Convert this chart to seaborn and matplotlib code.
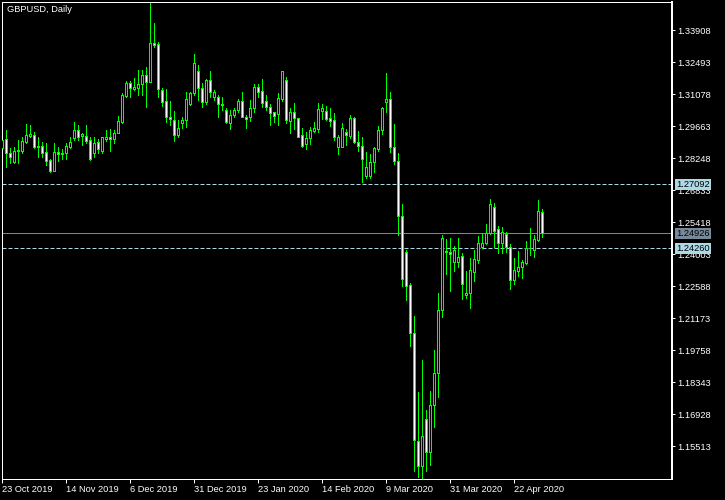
import numpy as np
import pandas as pd
import matplotlib
matplotlib.use('Agg')
import matplotlib.pyplot as plt
import seaborn as sns

# GBPUSD daily bars, 23 Oct 2019 .. 1 May 2020
opens = [1.2869, 1.2909, 1.2847, 1.2810, 1.2858, 1.2859, 1.2898, 1.2925, 1.2926, 1.2880,
         1.2879, 1.2851, 1.2817, 1.2770, 1.2853, 1.2843, 1.2847, 1.2876, 1.2916, 1.2950,
         1.2925, 1.2923, 1.2906, 1.2850, 1.2898, 1.2858, 1.2912, 1.2921, 1.2909, 1.2938,
         1.2987, 1.3102, 1.3156, 1.3133, 1.3137, 1.3152, 1.3192, 1.3161, 1.3336, 1.3330,
         1.3127, 1.3078, 1.3009, 1.2994, 1.2928, 1.2982, 1.2994, 1.3065, 1.3112, 1.3211,
         1.3134, 1.3075, 1.3171, 1.3095, 1.3095, 1.3064, 1.3038, 1.2982, 1.3015, 1.3038,
         1.3078, 1.3009, 1.3006, 1.3046, 1.3139, 1.3121, 1.3077, 1.3053, 1.3028, 1.3019,
         1.3087, 1.3170, 1.2991, 1.3028, 1.3002, 1.2928, 1.2887, 1.2913, 1.2947, 1.2954,
         1.3034, 1.3034, 1.3002, 1.2993, 1.2876, 1.2876, 1.2940, 1.2923, 1.3002, 1.2895,
         1.2881, 1.2748, 1.2748, 1.2807, 1.2866, 1.2950, 1.3075, 1.3086, 1.2876, 1.2814,
         1.2571, 1.2410, 1.2265, 1.2052, 1.1573, 1.1462, 1.1672, 1.1524, 1.1735, 1.1875,
         1.2155, 1.2415, 1.2412, 1.2368, 1.2368, 1.2393, 1.2220, 1.2228, 1.2324, 1.2373,
         1.2432, 1.2449, 1.2494, 1.2608, 1.2511, 1.2452, 1.2490, 1.2432, 1.2287, 1.2328,
         1.2343, 1.2361, 1.2428, 1.2420, 1.2464, 1.2586]
highs = [1.2920, 1.2950, 1.2869, 1.2876, 1.2906, 1.2921, 1.2977, 1.2972, 1.2942, 1.2921,
         1.2898, 1.2894, 1.2823, 1.2894, 1.2876, 1.2864, 1.2891, 1.2918, 1.2985, 1.2972,
         1.2935, 1.2972, 1.2921, 1.2918, 1.2909, 1.2921, 1.2950, 1.2953, 1.2950, 1.3012,
         1.3112, 1.3168, 1.3167, 1.3178, 1.3215, 1.3215, 1.3230, 1.3513, 1.3425, 1.3340,
         1.3134, 1.3130, 1.3080, 1.3034, 1.2994, 1.3009, 1.3119, 1.3119, 1.3286, 1.3237,
         1.3156, 1.3175, 1.3212, 1.3127, 1.3105, 1.3094, 1.3046, 1.3038, 1.3046, 1.3086,
         1.3119, 1.3016, 1.3083, 1.3153, 1.3153, 1.3175, 1.3105, 1.3065, 1.3031, 1.3112,
         1.3211, 1.3183, 1.3046, 1.3068, 1.3005, 1.2957, 1.2943, 1.2965, 1.2987, 1.3068,
         1.3063, 1.3056, 1.3046, 1.3024, 1.2928, 1.2979, 1.2953, 1.3016, 1.3009, 1.2945,
         1.2921, 1.2854, 1.2844, 1.2876, 1.2968, 1.3050, 1.3203, 1.3118, 1.2977, 1.2849,
         1.2623, 1.2420, 1.2273, 1.2128, 1.1793, 1.1934, 1.1713, 1.1798, 1.1975, 1.2231,
         1.2486, 1.2468, 1.2473, 1.2438, 1.2473, 1.2408, 1.2328, 1.2383, 1.2420, 1.2482,
         1.2494, 1.2535, 1.2644, 1.2629, 1.2526, 1.2521, 1.2501, 1.2446, 1.2383, 1.2417,
         1.2376, 1.2457, 1.2518, 1.2486, 1.2641, 1.2601]
lows = [1.2862, 1.2785, 1.2803, 1.2803, 1.2803, 1.2847, 1.2891, 1.2920, 1.2869, 1.2832,
        1.2832, 1.2795, 1.2764, 1.2770, 1.2814, 1.2820, 1.2823, 1.2869, 1.2906, 1.2906,
        1.2884, 1.2891, 1.2817, 1.2832, 1.2847, 1.2847, 1.2903, 1.2859, 1.2894, 1.2935,
        1.2979, 1.3097, 1.3097, 1.3127, 1.3105, 1.3105, 1.3050, 1.3161, 1.3318, 1.3097,
        1.3056, 1.2987, 1.2972, 1.2903, 1.2921, 1.2957, 1.2965, 1.3060, 1.3105, 1.3083,
        1.3053, 1.3065, 1.3097, 1.3083, 1.3009, 1.3038, 1.2982, 1.2953, 1.3009, 1.3031,
        1.3006, 1.2960, 1.2991, 1.3031, 1.3097, 1.3053, 1.3038, 1.2972, 1.2987, 1.2972,
        1.3080, 1.2982, 1.2938, 1.2954, 1.2918, 1.2876, 1.2866, 1.2888, 1.2943, 1.2943,
        1.2997, 1.2994, 1.2968, 1.2906, 1.2844, 1.2873, 1.2884, 1.2913, 1.2891, 1.2859,
        1.2722, 1.2736, 1.2736, 1.2766, 1.2859, 1.2932, 1.3031, 1.2853, 1.2800, 1.2486,
        1.2261, 1.2199, 1.1995, 1.1444, 1.1415, 1.1408, 1.1440, 1.1469, 1.1636, 1.1771,
        1.2125, 1.2314, 1.2240, 1.2328, 1.2346, 1.2202, 1.2206, 1.2162, 1.2284, 1.2361,
        1.2427, 1.2446, 1.2490, 1.2434, 1.2405, 1.2405, 1.2412, 1.2246, 1.2270, 1.2305,
        1.2295, 1.2358, 1.2398, 1.2388, 1.2461, 1.2479]
closes = [1.2906, 1.2847, 1.2829, 1.2859, 1.2862, 1.2901, 1.2926, 1.2931, 1.2876, 1.2876,
          1.2850, 1.2814, 1.2770, 1.2853, 1.2843, 1.2850, 1.2879, 1.2895, 1.2950, 1.2920,
          1.2931, 1.2903, 1.2822, 1.2894, 1.2864, 1.2918, 1.2921, 1.2909, 1.2937, 1.2990,
          1.3103, 1.3156, 1.3134, 1.3140, 1.3152, 1.3192, 1.3161, 1.3333, 1.3326, 1.3130,
          1.3075, 1.3006, 1.3000, 1.2929, 1.2957, 1.2994, 1.3086, 1.3112, 1.3245, 1.3134,
          1.3072, 1.3171, 1.3120, 1.3118, 1.3064, 1.3061, 1.2984, 1.3015, 1.3040, 1.3078,
          1.3009, 1.2997, 1.3046, 1.3139, 1.3120, 1.3068, 1.3053, 1.3027, 1.3013, 1.3090,
          1.3211, 1.2994, 1.3028, 1.3002, 1.2921, 1.2881, 1.2913, 1.2950, 1.2957, 1.3041,
          1.3046, 1.2999, 1.2990, 1.2918, 1.2918, 1.2957, 1.2926, 1.3002, 1.2895, 1.2881,
          1.2820, 1.2788, 1.2810, 1.2869, 1.2950, 1.3046, 1.3087, 1.2876, 1.2814, 1.2571,
          1.2290, 1.2262, 1.2052, 1.1577, 1.1462, 1.1598, 1.1524, 1.1735, 1.1875, 1.2155,
          1.2472, 1.2411, 1.2401, 1.2420, 1.2390, 1.2268, 1.2228, 1.2331, 1.2379, 1.2449,
          1.2449, 1.2496, 1.2623, 1.2505, 1.2452, 1.2501, 1.2432, 1.2287, 1.2331, 1.2343,
          1.2368, 1.2427, 1.2430, 1.2467, 1.2592, 1.2493]

date_bars = [0, 16, 32, 48, 64, 80, 96, 112, 128]
date_labels = ['23 Oct 2019', '14 Nov 2019', '6 Dec 2019', '31 Dec 2019', '23 Jan 2020',
               '14 Feb 2020', '9 Mar 2020', '31 Mar 2020', '22 Apr 2020']
price_ticks = [1.15513, 1.16928, 1.18343, 1.19758, 1.21173, 1.22588, 1.24003,
               1.25418, 1.26833, 1.28248, 1.29663, 1.31078, 1.32493, 1.33908]
dashed_levels = [1.27092, 1.24260]
bid_level = 1.24926

sns.set_theme(style='dark', rc={'axes.facecolor': 'black', 'figure.facecolor': 'black',
                                'axes.edgecolor': 'white', 'xtick.color': 'white',
                                'ytick.color': 'white', 'text.color': 'white',
                                'axes.grid': False})
plt.rcParams['font.family'] = ['Liberation Sans', 'DejaVu Sans']

df = pd.DataFrame({'Open': opens, 'High': highs, 'Low': lows, 'Close': closes})
df['Bar'] = np.arange(len(df))
df['Up'] = df['Close'] >= df['Open']

px = 0.72  # one pixel in points
green = '#00ff00'
fs = 6.7

fig = plt.figure(figsize=(7.25, 5), dpi=100)
ax = fig.add_axes([2 / 725, 21 / 500, 670 / 725, 477 / 500])

# wicks and bodies
ax.vlines(df['Bar'], df['Low'], df['High'], color=green, lw=px, antialiased=False, zorder=2)
body = (df['Close'] - df['Open']).abs().clip(lower=0.00004)
bottom = df[['Open', 'Close']].min(axis=1)
ax.bar(df['Bar'], body, bottom=bottom, width=0.5,
       color=np.where(df['Up'], 'black', 'white'), edgecolor=green,
       linewidth=px, antialiased=False, zorder=3)

# level lines
for lvl in dashed_levels:
    ax.axhline(lvl, color='#add8e6', lw=px, ls=(0, (4, 2)), zorder=1)
ax.axhline(bid_level, color='#778899', lw=px, zorder=1)

ax.set_xlim(0, 167.5)
ax.set_ylim(1.14067, 1.35160)

ax.yaxis.tick_right()
ax.set_yticks(price_ticks)
ax.set_yticklabels([f'{v:.5f}' for v in price_ticks])
ax.set_xticks(date_bars)
ax.set_xticklabels(date_labels)
for lab in ax.get_xticklabels():
    lab.set_ha('left')
ax.tick_params(axis='y', direction='out', length=3 * px, width=px, pad=1.5,
               labelsize=fs, colors='white', right=True, left=False)
ax.tick_params(axis='x', direction='out', length=4 * px, width=px, pad=1.5,
               labelsize=fs, colors='white', bottom=True)

for side in ['top', 'left', 'bottom']:
    ax.spines[side].set_color('white')
    ax.spines[side].set_linewidth(px)
ax.spines['right'].set_color('white')
ax.spines['right'].set_linewidth(2 * px)

# price labels on the scale
for lvl in dashed_levels:
    ax.text(1.006, lvl, f'{lvl:.5f}', transform=ax.get_yaxis_transform(),
            va='center', ha='left', fontsize=fs, color='black', clip_on=False, zorder=5,
            bbox=dict(boxstyle='square,pad=0.12', fc='#add8e6', ec='none'))
ax.text(1.006, bid_level, f'{bid_level:.5f}', transform=ax.get_yaxis_transform(),
        va='center', ha='left', fontsize=fs, color='black', clip_on=False, zorder=5,
        bbox=dict(boxstyle='square,pad=0.12', fc='#778899', ec='none'))

fig.text(7 / 725, 1 - 9.5 / 500, 'GBPUSD, Daily', va='center', ha='left',
         fontsize=fs, color='white')

fig.savefig('out.png', dpi=100, facecolor='black')
